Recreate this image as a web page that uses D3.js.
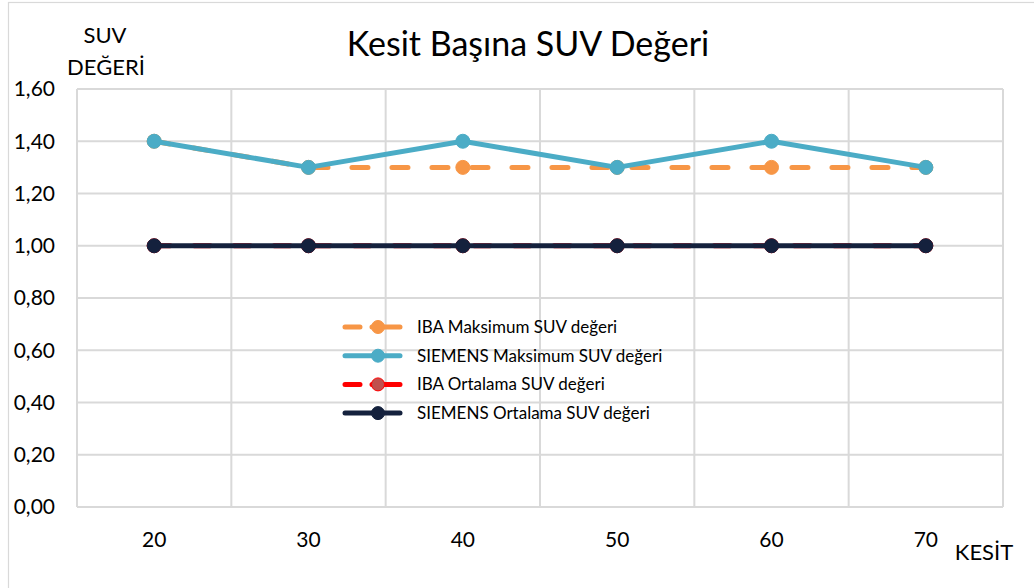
<!DOCTYPE html>
<html>
<head>
<meta charset="utf-8">
<script src="https://cdn.jsdelivr.net/npm/d3@7"></script>
<style>
  body { margin: 0; background: #fff; }
  svg text { font-family: Lato, "Open Sans", sans-serif; fill: #000; }
</style>
</head>
<body>
<svg id="chart" width="1034" height="588"></svg>
<script>
// data
const kesit = ["20", "30", "40", "50", "60", "70"];
const ibaMax = [1.4, 1.3, 1.3, 1.3, 1.3, 1.3];
const siemensMax = [1.4, 1.3, 1.4, 1.3, 1.4, 1.3];
const ibaMean = [1.0, 1.0, 1.0, 1.0, 1.0, 1.0];
const siemensMean = [1.0, 1.0, 1.0, 1.0, 1.0, 1.0];
const yTicks = [0, 0.2, 0.4, 0.6, 0.8, 1.0, 1.2, 1.4, 1.6];

const series = [
    {name: "IBA Maksimum SUV değeri", values: ibaMax, color: "#f79646", dash: "16,24", dot: "#f79646", dotStroke: "#f79646"},
    {name: "SIEMENS Maksimum SUV değeri", values: siemensMax, color: "#4bacc6", dash: null, dot: "#4bacc6", dotStroke: "#4bacc6"},
    {name: "IBA Ortalama SUV değeri", values: ibaMean, color: "#ff0000", dash: "16,24", dot: "#c0504d", dotStroke: "#ff0000"},
    {name: "SIEMENS Ortalama SUV değeri", values: siemensMean, color: "#14213d", dash: null, dot: "#14213d", dotStroke: "#14213d"}
];

const svg = d3.select("#chart");
const plot = {left: 77, right: 1003, top: 89, bottom: 507};

// outer chart frame
svg.append("rect")
    .attr("x", 8.5).attr("y", 2.5)
    .attr("width", 1040).attr("height", 600)
    .attr("fill", "none")
    .attr("stroke", "#d9d9d9")
    .attr("stroke-width", 1.2);

const x = d3.scaleBand().domain(kesit).range([plot.left, plot.right]);
const y = d3.scaleLinear().domain([0, 1.6]).range([plot.bottom, plot.top]);
const fmt = d => d3.format(".2f")(d).replace(".", ",");

// gridlines
const grid = svg.append("g").attr("stroke", "#d9d9d9").attr("stroke-width", 2);
grid.selectAll(".hg").data(yTicks).enter().append("line")
    .attr("x1", plot.left).attr("x2", plot.right)
    .attr("y1", d => y(d)).attr("y2", d => y(d));
const vEdges = kesit.map(k => x(k)).concat([plot.right]);
grid.selectAll(".vg").data(vEdges).enter().append("line")
    .attr("x1", d => d).attr("x2", d => d)
    .attr("y1", plot.top).attr("y2", plot.bottom);

// y tick labels
svg.append("g").selectAll("text").data(yTicks).enter().append("text")
    .attr("x", 55).attr("y", d => y(d))
    .attr("dy", "0.35em")
    .attr("text-anchor", "end")
    .attr("font-size", 21)
    .text(fmt);

// x tick labels
svg.append("g").selectAll("text").data(kesit).enter().append("text")
    .attr("x", d => x(d) + x.bandwidth() / 2)
    .attr("y", 547)
    .attr("text-anchor", "middle")
    .attr("font-size", 21)
    .text(d => d);

// titles
svg.append("text").attr("x", 528).attr("y", 56)
    .attr("text-anchor", "middle").attr("font-size", 34)
    .text("Kesit Başına SUV Değeri");
svg.append("text").attr("x", 105).attr("y", 43)
    .attr("text-anchor", "middle").attr("font-size", 22).text("SUV");
svg.append("text").attr("x", 106).attr("y", 75)
    .attr("text-anchor", "middle").attr("font-size", 22).text("DEĞERİ");
svg.append("text").attr("x", 984).attr("y", 560)
    .attr("text-anchor", "middle").attr("font-size", 22).text("KESİT");

// lines and markers
const line = d3.line()
    .x((d, i) => x(kesit[i]) + x.bandwidth() / 2)
    .y(d => y(d));

series.forEach(s => {
    const g = svg.append("g");
    g.append("path")
        .attr("d", line(s.values))
        .attr("fill", "none")
        .attr("stroke", s.color)
        .attr("stroke-width", 5)
        .attr("stroke-linecap", "round")
        .attr("stroke-linejoin", "round")
        .attr("stroke-dasharray", s.dash);
    g.selectAll("circle").data(s.values).enter().append("circle")
        .attr("cx", (d, i) => x(kesit[i]) + x.bandwidth() / 2)
        .attr("cy", d => y(d))
        .attr("r", 7)
        .attr("fill", s.dot)
        .attr("stroke", s.dotStroke)
        .attr("stroke-width", 1);
});

// legend
const legend = svg.append("g");
series.forEach((s, i) => {
    const ly = 327 + i * 28.7;
    legend.append("line")
        .attr("x1", 345).attr("x2", 400)
        .attr("y1", ly).attr("y2", ly)
        .attr("stroke", s.color)
        .attr("stroke-width", 5)
        .attr("stroke-linecap", "round")
        .attr("stroke-dasharray", s.dash ? "15,12,40" : null);
    legend.append("circle")
        .attr("cx", 378).attr("cy", ly).attr("r", 6.5)
        .attr("fill", s.dot).attr("stroke", s.dotStroke).attr("stroke-width", 1);
    legend.append("text")
        .attr("x", 417).attr("y", ly)
        .attr("dy", "0.35em")
        .attr("font-size", 17)
        .text(s.name);
});
</script>
</body>
</html>
